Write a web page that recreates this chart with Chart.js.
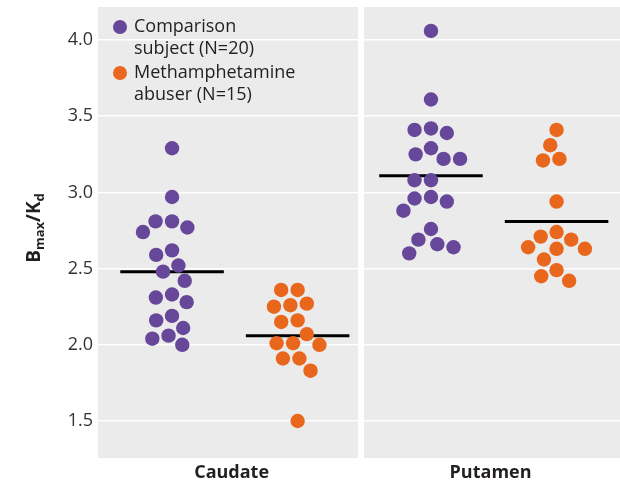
<!DOCTYPE html>
<html>
<head>
<meta charset="utf-8">
<script src="https://cdn.jsdelivr.net/npm/chart.js@4.4.1/dist/chart.umd.min.js"></script>
<style>
  html, body { margin: 0; padding: 0; background: #fff; }
  #wrap { width: 620px; height: 484px; }
</style>
</head>
<body>
<div id="wrap"><canvas id="myChart" width="620" height="484"></canvas></div>
<script>
const regions = ['Caudate', 'Putamen'];
const groupNames = [['Comparison', 'subject (N=20)'], ['Methamphetamine', 'abuser (N=15)']];
const groupColors = ['#664799', '#e8671c'];

// Bmax/Kd values
const caudateComparison = [3.29, 2.97, 2.81, 2.81, 2.77, 2.74, 2.62, 2.59, 2.52, 2.48,
                           2.42, 2.33, 2.31, 2.28, 2.19, 2.16, 2.11, 2.06, 2.04, 2.00];
const caudateMeth = [2.36, 2.36, 2.27, 2.26, 2.25, 2.16, 2.15, 2.07, 2.01, 2.01,
                     2.00, 1.91, 1.91, 1.83, 1.50];
const putamenComparison = [4.06, 3.61, 3.42, 3.41, 3.39, 3.29, 3.25, 3.22, 3.22, 3.08,
                           3.08, 2.97, 2.96, 2.94, 2.88, 2.76, 2.69, 2.66, 2.64, 2.60];
const putamenMeth = [3.41, 3.31, 3.22, 3.21, 2.94, 2.74, 2.71, 2.69, 2.64, 2.63,
                     2.63, 2.56, 2.49, 2.45, 2.42];
const caudateMeans = [2.48, 2.06];
const putamenMeans = [3.11, 2.81];
const yTicks = [1.5, 2.0, 2.5, 3.0, 3.5, 4.0];

const values = [[caudateComparison, caudateMeth], [putamenComparison, putamenMeth]];
const means = [caudateMeans, putamenMeans];
const groupPos = [0.27, 0.755];
const FONT = "'Open Sans', 'DejaVu Sans', sans-serif";

const datasets = [];
regions.forEach((reg, r) => {
    [0, 1].forEach(g => {
        const cx = r + groupPos[g];
        datasets.push({
            type: 'scatter',
            label: reg + ' ' + g,
            data: values[r][g].map(v => ({ x: cx, y: v })),
            backgroundColor: groupColors[g],
            borderWidth: 0,
            pointRadius: 7.2,
            pointHoverRadius: 7.2,
            order: 1,
            swarmCenter: cx
        });
        datasets.push({
            type: 'line',
            label: reg + ' mean ' + g,
            data: [{ x: cx - 0.2, y: means[r][g] }, { x: cx + 0.2, y: means[r][g] }],
            borderColor: '#000',
            borderWidth: 3,
            pointRadius: 0,
            fill: false,
            order: 2
        });
    });
});

const panels = {
    id: 'panels',
    beforeDraw(chart) {
        const { ctx, chartArea, scales } = chart;
        const mid = scales.x.getPixelForValue(1);
        ctx.save();
        ctx.fillStyle = '#ebebeb';
        ctx.fillRect(chartArea.left, chartArea.top, mid - 3 - chartArea.left, chartArea.bottom - chartArea.top);
        ctx.fillRect(mid + 3, chartArea.top, chartArea.right - mid - 3, chartArea.bottom - chartArea.top);
        ctx.restore();
    },
    afterDraw(chart) {
        const { ctx } = chart;
        ctx.save();
        // legend
        ctx.font = '18px ' + FONT;
        ctx.textBaseline = 'middle';
        ctx.textAlign = 'left';
        const starts = [27, 73];
        groupNames.forEach((lines, g) => {
            ctx.fillStyle = groupColors[g];
            ctx.beginPath();
            ctx.arc(120, starts[g], 7, 0, Math.PI * 2);
            ctx.fill();
            ctx.fillStyle = '#231f20';
            lines.forEach((t, i) => ctx.fillText(t, 134, starts[g] + i * 21.5));
        });
        // y axis title
        ctx.translate(33, 228);
        ctx.rotate(-Math.PI / 2);
        ctx.fillStyle = '#231f20';
        ctx.textBaseline = 'alphabetic';
        const parts = [['B', 19, 0], ['max', 13, 4], ['/', 19, 0], ['K', 19, 0], ['d', 13, 4]];
        let w = 0;
        parts.forEach(p => { ctx.font = 'bold ' + p[1] + 'px ' + FONT; w += ctx.measureText(p[0]).width; });
        let x = -w / 2;
        parts.forEach(p => {
            ctx.font = 'bold ' + p[1] + 'px ' + FONT;
            ctx.fillText(p[0], x, 7 + p[2]);
            x += ctx.measureText(p[0]).width;
        });
        ctx.restore();
    }
};

const ctx = document.getElementById('myChart').getContext('2d');
const myChart = new Chart(ctx, {
    data: { datasets: datasets },
    options: {
        responsive: false,
        animation: false,
        devicePixelRatio: 1,
        layout: { autoPadding: false, padding: { top: 7, right: 0, left: 0, bottom: 0 } },
        plugins: { legend: { display: false }, tooltip: { enabled: false } },
        scales: {
            x: {
                type: 'linear',
                min: -0.016,
                max: 2,
                afterBuildTicks: axis => { axis.ticks = [{ value: 0.5 }, { value: 1.5 }]; },
                ticks: {
                    callback: v => regions[Math.floor(v)],
                    font: { family: FONT, size: 18, weight: 'bold' },
                    color: '#231f20',
                    padding: 4
                },
                grid: { display: false, drawTicks: false },
                border: { display: false },
                afterFit: axis => { axis.height = 26; axis.paddingLeft = 0; axis.paddingRight = 0; }
            },
            y: {
                min: 1.257,
                max: 4.217,
                afterBuildTicks: axis => { axis.ticks = yTicks.map(v => ({ value: v })); },
                ticks: {
                    callback: v => v.toFixed(1),
                    font: { family: FONT, size: 18 },
                    color: '#333',
                    padding: 5
                },
                grid: { color: '#fff', lineWidth: 1.5, drawTicks: false },
                border: { display: false },
                afterFit: axis => { axis.width = 98; axis.paddingTop = 0; axis.paddingBottom = 0; }
            }
        }
    },
    plugins: [panels]
});

// beeswarm: spread points sideways in pixel space so dots do not overlap
function swarm(chart) {
    const xs = chart.scales.x, ys = chart.scales.y;
    const unit = (xs.getPixelForValue(1) - xs.getPixelForValue(0));
    const diam = 16.5;
    chart.data.datasets.forEach(ds => {
        if (ds.swarmCenter === undefined) return;
        const placed = [];
        const idx = ds.data.map((p, i) => i).sort((a, b) => ds.data[b].y - ds.data[a].y);
        idx.forEach(i => {
            const py = ys.getPixelForValue(ds.data[i].y);
            const cands = [0];
            placed.forEach(q => {
                const dy = Math.abs(q.py - py);
                if (dy < diam) {
                    const dx = Math.sqrt(diam * diam - dy * dy);
                    cands.push(q.ox + dx, q.ox - dx);
                }
            });
            cands.sort((a, b) => Math.abs(a) - Math.abs(b) || a - b);
            let best = 0;
            for (const c of cands) {
                const ok = placed.every(q => (q.ox - c) ** 2 + (q.py - py) ** 2 >= diam * diam - 0.01);
                if (ok) { best = c; break; }
            }
            placed.push({ ox: best, py: py });
            ds.data[i] = { x: ds.swarmCenter + best / unit, y: ds.data[i].y };
        });
    });
    chart.update('none');
}
swarm(myChart);
</script>
</body>
</html>
